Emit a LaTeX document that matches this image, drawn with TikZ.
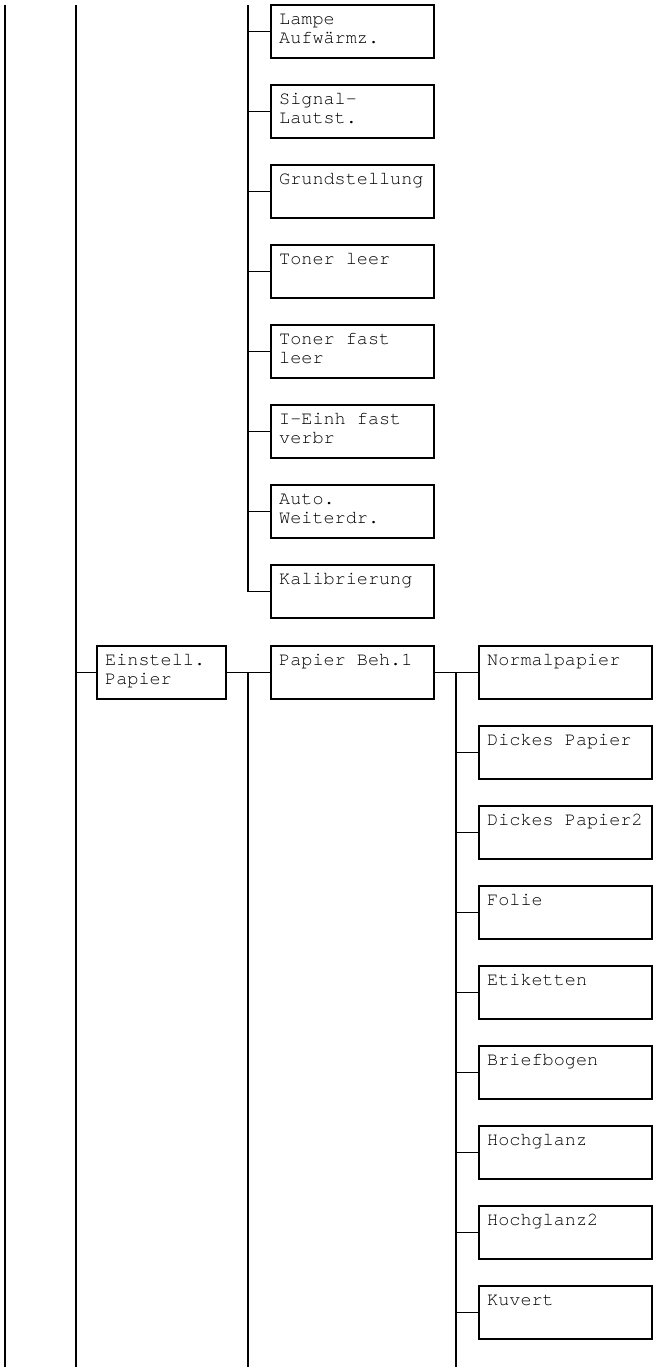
\documentclass[tikz,border=0pt]{standalone}
\usepackage{fontspec}
\newfontfamily\boxfont{texgyrecursor-regular.otf}
\usetikzlibrary{calc}
\tikzset{
  menubox/.style={draw, line width=1.6pt, minimum height=53pt, inner sep=0pt, outer sep=0pt, anchor=north west},
  wideA/.style={minimum width=163pt},
  wideB/.style={minimum width=129pt},
  wideC/.style={minimum width=173pt},
  lbl/.style={anchor=north west, inner sep=0pt, align=left, font=\boxfont\fontsize{18.5}{19.5}\selectfont},
  tree/.style={line width=2pt},
  twig/.style={line width=1.8pt}
}
\begin{document}
\begin{tikzpicture}[x=1pt,y=-1pt]
\useasboundingbox (0,0) rectangle (656,1367);
% outer vertical lines
\coordinate (l1t) at (5,5);   \coordinate (l1b) at (5,1367);
\coordinate (l2t) at (76,5);  \coordinate (l2b) at (76,1367);
\draw[tree] (l1t) -- (l1b);
\draw[tree] (l2t) -- (l2b);
% upper column
\coordinate (l3t) at (248,5);
\foreach \i/\t in {0/{Lampe\\Aufwärmz.},1/{Signal-\\Lautst.},2/{Grundstellung},3/{Toner leer},4/{Toner fast\\leer},5/{I-Einh fast\\verbr},6/{Auto.\\Weiterdr.},7/{Kalibrierung}}{
  \node[menubox,wideA] (u\i) at (271,5+80*\i) {};
  \node[lbl] (ut\i) at ($(u\i.north west)+(8,5.5)$) {\strut\t};
  \draw[twig] (l3t |- u\i.west) -- (u\i.west);
}
\draw[tree] (l3t) -- (l3t |- u7.west);
% Einstell. Papier
\node[menubox,wideB] (ep) at (97,646) {};
\node[lbl] (ept) at ($(ep.north west)+(8,5.5)$) {\strut Einstell.\\Papier};
\draw[twig] (l2t |- ep.west) -- (ep.west);
% Papier Beh.1
\node[menubox,wideA] (pb) at (271,646) {};
\node[lbl] (pbt) at ($(pb.north west)+(8,5.5)$) {\strut Papier Beh.1};
\draw[twig] (ep.east) -- (pb.west);
\coordinate (l3b) at (248,1367);
\draw[tree] (l3t |- pb.west) -- (l3b);
% paper types
\coordinate (l4b) at (456,1367);
\foreach \i/\t in {0/{Normalpapier},1/{Dickes Papier},2/{Dickes Papier2},3/{Folie},4/{Etiketten},5/{Briefbogen},6/{Hochglanz},7/{Hochglanz2},8/{Kuvert}}{
  \node[menubox,wideC] (p\i) at (479,646+80*\i) {};
  \node[lbl] (pt\i) at ($(p\i.north west)+(8,5.5)$) {\strut\t};
  \draw[twig] (l4b |- p\i.west) -- (p\i.west);
}
\draw[twig] (pb.east) -- (l4b |- pb.east);
\draw[tree] (l4b |- p0.west) -- (l4b);
\end{tikzpicture}
\end{document}
